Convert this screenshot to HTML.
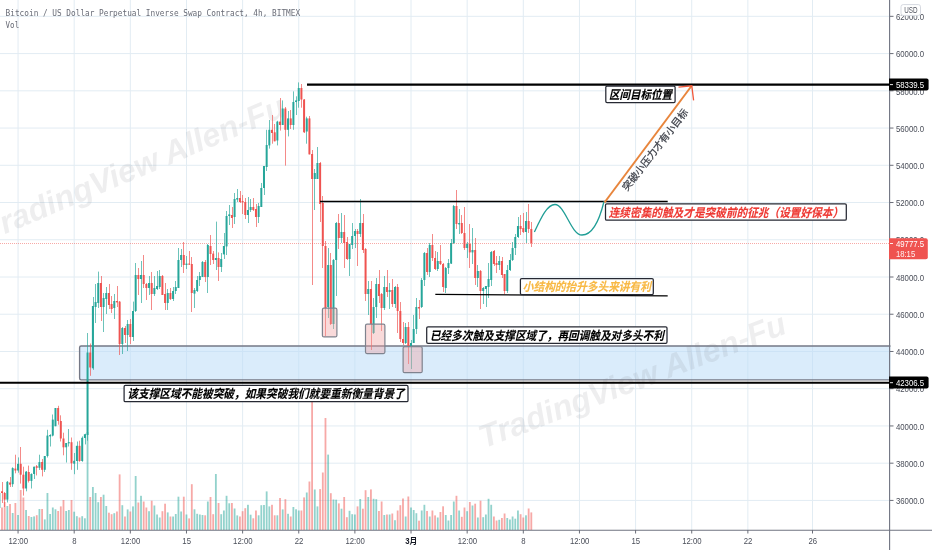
<!DOCTYPE html>
<html lang="zh"><head><meta charset="utf-8"><title>BTC chart</title>
<style>html,body{margin:0;padding:0;background:#fff;overflow:hidden}svg{display:block;filter:blur(0.3px)}text{font-family:"Liberation Sans", "Noto Sans CJK SC", sans-serif}.ax{font-size:8.4px;fill:#4a4e59}.bi{font-weight:bold;font-style:italic}.mono{font-family:"DejaVu Sans Mono", "Liberation Mono", monospace}</style></head><body>
<svg width="932" height="550" viewBox="0 0 932 550">
<rect width="932" height="550" fill="#fff"/>
<g stroke="#e2ecf3" stroke-width="1" fill="none">
<path d="M0 16.34 H890"/>
<path d="M0 53.58 H890"/>
<path d="M0 90.82 H890"/>
<path d="M0 128.05 H890"/>
<path d="M0 165.29 H890"/>
<path d="M0 202.52 H890"/>
<path d="M0 239.76 H890"/>
<path d="M0 277 H890"/>
<path d="M0 314.23 H890"/>
<path d="M0 351.47 H890"/>
<path d="M0 388.7 H890"/>
<path d="M0 425.94 H890"/>
<path d="M0 463.18 H890"/>
<path d="M0 500.41 H890"/>
<path d="M18.05 0 V530"/>
<path d="M74.19 0 V530"/>
<path d="M130.33 0 V530"/>
<path d="M186.47 0 V530"/>
<path d="M242.61 0 V530"/>
<path d="M298.75 0 V530"/>
<path d="M354.89 0 V530"/>
<path d="M411.03 0 V530"/>
<path d="M467.17 0 V530"/>
<path d="M523.31 0 V530"/>
<path d="M579.45 0 V530"/>
<path d="M635.59 0 V530"/>
<path d="M691.73 0 V530"/>
<path d="M747.87 0 V530"/>
<path d="M812.5 0 V530"/>
</g>
<rect x="79.6" y="346" width="812.4" height="33.8" rx="1.5" fill="#bcdcf7" fill-opacity="0.55" stroke="#747886" stroke-width="1.35"/>
<text class="bi" x="-12.85" y="241.7" font-size="32.2" fill="#787b86" fill-opacity="0.13" transform="rotate(-22.9 -12.85 241.7)">TradingView Allen-Fu</text>
<text class="bi" x="483.7" y="448.6" font-size="32.2" fill="#787b86" fill-opacity="0.13" transform="rotate(-20.8 483.7 448.6)">TradingView Allen-Fu</text>
<g>
<rect x="1.1" y="507.5" width="1.8" height="22.5" fill="#ef5350" fill-opacity="0.5"/>
<rect x="3.77" y="502" width="1.8" height="28" fill="#ef5350" fill-opacity="0.5"/>
<rect x="6.45" y="506" width="1.8" height="24" fill="#26a69a" fill-opacity="0.5"/>
<rect x="9.12" y="504" width="1.8" height="26" fill="#ef5350" fill-opacity="0.5"/>
<rect x="11.79" y="513" width="1.8" height="17" fill="#26a69a" fill-opacity="0.5"/>
<rect x="14.47" y="503" width="1.8" height="27" fill="#ef5350" fill-opacity="0.5"/>
<rect x="17.14" y="515" width="1.8" height="15" fill="#26a69a" fill-opacity="0.5"/>
<rect x="19.81" y="490" width="1.8" height="40" fill="#ef5350" fill-opacity="0.5"/>
<rect x="22.49" y="497.5" width="1.8" height="32.5" fill="#ef5350" fill-opacity="0.5"/>
<rect x="25.16" y="510" width="1.8" height="20" fill="#26a69a" fill-opacity="0.5"/>
<rect x="27.83" y="516" width="1.8" height="14" fill="#ef5350" fill-opacity="0.5"/>
<rect x="30.51" y="517" width="1.8" height="13" fill="#26a69a" fill-opacity="0.5"/>
<rect x="33.18" y="516.4" width="1.8" height="13.6" fill="#26a69a" fill-opacity="0.5"/>
<rect x="35.85" y="515.2" width="1.8" height="14.8" fill="#ef5350" fill-opacity="0.5"/>
<rect x="38.53" y="509" width="1.8" height="21" fill="#26a69a" fill-opacity="0.5"/>
<rect x="41.2" y="509" width="1.8" height="21" fill="#ef5350" fill-opacity="0.5"/>
<rect x="43.87" y="519.4" width="1.8" height="10.6" fill="#26a69a" fill-opacity="0.5"/>
<rect x="46.55" y="493" width="1.8" height="37" fill="#26a69a" fill-opacity="0.5"/>
<rect x="49.22" y="514" width="1.8" height="16" fill="#26a69a" fill-opacity="0.5"/>
<rect x="51.89" y="507.5" width="1.8" height="22.5" fill="#26a69a" fill-opacity="0.5"/>
<rect x="54.57" y="509.3" width="1.8" height="20.7" fill="#26a69a" fill-opacity="0.5"/>
<rect x="57.24" y="511" width="1.8" height="19" fill="#ef5350" fill-opacity="0.5"/>
<rect x="59.91" y="506.4" width="1.8" height="23.6" fill="#ef5350" fill-opacity="0.5"/>
<rect x="62.59" y="500" width="1.8" height="30" fill="#ef5350" fill-opacity="0.5"/>
<rect x="65.26" y="511" width="1.8" height="19" fill="#26a69a" fill-opacity="0.5"/>
<rect x="67.93" y="510" width="1.8" height="20" fill="#26a69a" fill-opacity="0.5"/>
<rect x="70.61" y="500" width="1.8" height="30" fill="#ef5350" fill-opacity="0.5"/>
<rect x="73.28" y="511.7" width="1.8" height="18.3" fill="#26a69a" fill-opacity="0.5"/>
<rect x="75.95" y="516.2" width="1.8" height="13.8" fill="#26a69a" fill-opacity="0.5"/>
<rect x="78.63" y="517.5" width="1.8" height="12.5" fill="#ef5350" fill-opacity="0.5"/>
<rect x="81.3" y="516.2" width="1.8" height="13.8" fill="#26a69a" fill-opacity="0.5"/>
<rect x="83.97" y="518.3" width="1.8" height="11.7" fill="#26a69a" fill-opacity="0.5"/>
<rect x="86.65" y="432" width="1.8" height="98" fill="#26a69a" fill-opacity="0.5"/>
<rect x="89.32" y="497" width="1.8" height="33" fill="#ef5350" fill-opacity="0.5"/>
<rect x="91.99" y="487" width="1.8" height="43" fill="#26a69a" fill-opacity="0.5"/>
<rect x="94.67" y="493" width="1.8" height="37" fill="#26a69a" fill-opacity="0.5"/>
<rect x="97.34" y="502.2" width="1.8" height="27.8" fill="#26a69a" fill-opacity="0.5"/>
<rect x="100.01" y="497" width="1.8" height="33" fill="#ef5350" fill-opacity="0.5"/>
<rect x="102.69" y="494.7" width="1.8" height="35.3" fill="#26a69a" fill-opacity="0.5"/>
<rect x="105.36" y="506" width="1.8" height="24" fill="#26a69a" fill-opacity="0.5"/>
<rect x="108.03" y="512.7" width="1.8" height="17.3" fill="#ef5350" fill-opacity="0.5"/>
<rect x="110.71" y="514.2" width="1.8" height="15.8" fill="#ef5350" fill-opacity="0.5"/>
<rect x="113.38" y="513.2" width="1.8" height="16.8" fill="#26a69a" fill-opacity="0.5"/>
<rect x="116.05" y="511.5" width="1.8" height="18.5" fill="#ef5350" fill-opacity="0.5"/>
<rect x="118.73" y="474.4" width="1.8" height="55.6" fill="#ef5350" fill-opacity="0.5"/>
<rect x="121.4" y="505.2" width="1.8" height="24.8" fill="#26a69a" fill-opacity="0.5"/>
<rect x="124.07" y="516.5" width="1.8" height="13.5" fill="#ef5350" fill-opacity="0.5"/>
<rect x="126.75" y="509.4" width="1.8" height="20.6" fill="#26a69a" fill-opacity="0.5"/>
<rect x="129.42" y="511.5" width="1.8" height="18.5" fill="#ef5350" fill-opacity="0.5"/>
<rect x="132.09" y="506.4" width="1.8" height="23.6" fill="#26a69a" fill-opacity="0.5"/>
<rect x="134.76" y="476" width="1.8" height="54" fill="#26a69a" fill-opacity="0.5"/>
<rect x="137.44" y="502.5" width="1.8" height="27.5" fill="#ef5350" fill-opacity="0.5"/>
<rect x="140.11" y="495.8" width="1.8" height="34.2" fill="#26a69a" fill-opacity="0.5"/>
<rect x="142.78" y="501.5" width="1.8" height="28.5" fill="#ef5350" fill-opacity="0.5"/>
<rect x="145.46" y="507.5" width="1.8" height="22.5" fill="#ef5350" fill-opacity="0.5"/>
<rect x="148.13" y="511.2" width="1.8" height="18.8" fill="#26a69a" fill-opacity="0.5"/>
<rect x="150.8" y="500.7" width="1.8" height="29.3" fill="#ef5350" fill-opacity="0.5"/>
<rect x="153.48" y="505.5" width="1.8" height="24.5" fill="#26a69a" fill-opacity="0.5"/>
<rect x="156.15" y="514.5" width="1.8" height="15.5" fill="#26a69a" fill-opacity="0.5"/>
<rect x="158.82" y="517.5" width="1.8" height="12.5" fill="#26a69a" fill-opacity="0.5"/>
<rect x="161.5" y="511.2" width="1.8" height="18.8" fill="#ef5350" fill-opacity="0.5"/>
<rect x="164.17" y="503.7" width="1.8" height="26.3" fill="#ef5350" fill-opacity="0.5"/>
<rect x="166.84" y="512.4" width="1.8" height="17.6" fill="#26a69a" fill-opacity="0.5"/>
<rect x="169.52" y="516.5" width="1.8" height="13.5" fill="#ef5350" fill-opacity="0.5"/>
<rect x="172.19" y="516.5" width="1.8" height="13.5" fill="#26a69a" fill-opacity="0.5"/>
<rect x="174.86" y="514" width="1.8" height="16" fill="#26a69a" fill-opacity="0.5"/>
<rect x="177.54" y="496.7" width="1.8" height="33.3" fill="#26a69a" fill-opacity="0.5"/>
<rect x="180.21" y="511.5" width="1.8" height="18.5" fill="#26a69a" fill-opacity="0.5"/>
<rect x="182.88" y="496.7" width="1.8" height="33.3" fill="#ef5350" fill-opacity="0.5"/>
<rect x="185.56" y="514.5" width="1.8" height="15.5" fill="#26a69a" fill-opacity="0.5"/>
<rect x="188.23" y="518.4" width="1.8" height="11.6" fill="#ef5350" fill-opacity="0.5"/>
<rect x="190.9" y="484.2" width="1.8" height="45.8" fill="#ef5350" fill-opacity="0.5"/>
<rect x="193.58" y="509.3" width="1.8" height="20.7" fill="#26a69a" fill-opacity="0.5"/>
<rect x="196.25" y="513.8" width="1.8" height="16.2" fill="#26a69a" fill-opacity="0.5"/>
<rect x="198.92" y="514.5" width="1.8" height="15.5" fill="#26a69a" fill-opacity="0.5"/>
<rect x="201.6" y="515" width="1.8" height="15" fill="#26a69a" fill-opacity="0.5"/>
<rect x="204.27" y="515.3" width="1.8" height="14.7" fill="#ef5350" fill-opacity="0.5"/>
<rect x="206.94" y="501.5" width="1.8" height="28.5" fill="#26a69a" fill-opacity="0.5"/>
<rect x="209.62" y="497" width="1.8" height="33" fill="#ef5350" fill-opacity="0.5"/>
<rect x="212.29" y="514.2" width="1.8" height="15.8" fill="#ef5350" fill-opacity="0.5"/>
<rect x="214.96" y="474" width="1.8" height="56" fill="#26a69a" fill-opacity="0.5"/>
<rect x="217.64" y="503" width="1.8" height="27" fill="#ef5350" fill-opacity="0.5"/>
<rect x="220.31" y="514.2" width="1.8" height="15.8" fill="#26a69a" fill-opacity="0.5"/>
<rect x="222.98" y="510.5" width="1.8" height="19.5" fill="#26a69a" fill-opacity="0.5"/>
<rect x="225.66" y="495.8" width="1.8" height="34.2" fill="#26a69a" fill-opacity="0.5"/>
<rect x="228.33" y="503.3" width="1.8" height="26.7" fill="#26a69a" fill-opacity="0.5"/>
<rect x="231" y="503" width="1.8" height="27" fill="#ef5350" fill-opacity="0.5"/>
<rect x="233.68" y="508.5" width="1.8" height="21.5" fill="#26a69a" fill-opacity="0.5"/>
<rect x="236.35" y="515.4" width="1.8" height="14.6" fill="#26a69a" fill-opacity="0.5"/>
<rect x="239.02" y="516.5" width="1.8" height="13.5" fill="#ef5350" fill-opacity="0.5"/>
<rect x="241.7" y="511.2" width="1.8" height="18.8" fill="#ef5350" fill-opacity="0.5"/>
<rect x="244.37" y="508.2" width="1.8" height="21.8" fill="#ef5350" fill-opacity="0.5"/>
<rect x="247.04" y="504.8" width="1.8" height="25.2" fill="#26a69a" fill-opacity="0.5"/>
<rect x="249.72" y="514.7" width="1.8" height="15.3" fill="#26a69a" fill-opacity="0.5"/>
<rect x="252.39" y="518.3" width="1.8" height="11.7" fill="#ef5350" fill-opacity="0.5"/>
<rect x="255.06" y="510.5" width="1.8" height="19.5" fill="#ef5350" fill-opacity="0.5"/>
<rect x="257.74" y="515.3" width="1.8" height="14.7" fill="#26a69a" fill-opacity="0.5"/>
<rect x="260.41" y="505.2" width="1.8" height="24.8" fill="#26a69a" fill-opacity="0.5"/>
<rect x="263.08" y="505" width="1.8" height="25" fill="#26a69a" fill-opacity="0.5"/>
<rect x="265.76" y="491.4" width="1.8" height="38.6" fill="#26a69a" fill-opacity="0.5"/>
<rect x="268.43" y="506.4" width="1.8" height="23.6" fill="#26a69a" fill-opacity="0.5"/>
<rect x="271.1" y="504.8" width="1.8" height="25.2" fill="#ef5350" fill-opacity="0.5"/>
<rect x="273.78" y="515.3" width="1.8" height="14.7" fill="#ef5350" fill-opacity="0.5"/>
<rect x="276.45" y="515.3" width="1.8" height="14.7" fill="#26a69a" fill-opacity="0.5"/>
<rect x="279.12" y="498" width="1.8" height="32" fill="#ef5350" fill-opacity="0.5"/>
<rect x="281.8" y="509.4" width="1.8" height="20.6" fill="#26a69a" fill-opacity="0.5"/>
<rect x="284.47" y="499.2" width="1.8" height="30.8" fill="#ef5350" fill-opacity="0.5"/>
<rect x="287.14" y="513.8" width="1.8" height="16.2" fill="#26a69a" fill-opacity="0.5"/>
<rect x="289.82" y="516.5" width="1.8" height="13.5" fill="#ef5350" fill-opacity="0.5"/>
<rect x="292.49" y="507" width="1.8" height="23" fill="#26a69a" fill-opacity="0.5"/>
<rect x="295.16" y="509.3" width="1.8" height="20.7" fill="#26a69a" fill-opacity="0.5"/>
<rect x="297.84" y="510.5" width="1.8" height="19.5" fill="#26a69a" fill-opacity="0.5"/>
<rect x="300.51" y="510.5" width="1.8" height="19.5" fill="#ef5350" fill-opacity="0.5"/>
<rect x="303.18" y="497.4" width="1.8" height="32.6" fill="#ef5350" fill-opacity="0.5"/>
<rect x="305.86" y="492.5" width="1.8" height="37.5" fill="#26a69a" fill-opacity="0.5"/>
<rect x="308.53" y="481.5" width="1.8" height="48.5" fill="#ef5350" fill-opacity="0.5"/>
<rect x="311.2" y="396" width="1.8" height="134" fill="#ef5350" fill-opacity="0.5"/>
<rect x="313.88" y="489.5" width="1.8" height="40.5" fill="#26a69a" fill-opacity="0.5"/>
<rect x="316.55" y="506.4" width="1.8" height="23.6" fill="#26a69a" fill-opacity="0.5"/>
<rect x="319.22" y="489.1" width="1.8" height="40.9" fill="#ef5350" fill-opacity="0.5"/>
<rect x="321.9" y="472.5" width="1.8" height="57.5" fill="#ef5350" fill-opacity="0.5"/>
<rect x="324.57" y="418" width="1.8" height="112" fill="#ef5350" fill-opacity="0.5"/>
<rect x="327.24" y="454.6" width="1.8" height="75.4" fill="#26a69a" fill-opacity="0.5"/>
<rect x="329.92" y="493.2" width="1.8" height="36.8" fill="#ef5350" fill-opacity="0.5"/>
<rect x="332.59" y="499.5" width="1.8" height="30.5" fill="#26a69a" fill-opacity="0.5"/>
<rect x="335.26" y="499.7" width="1.8" height="30.3" fill="#26a69a" fill-opacity="0.5"/>
<rect x="337.94" y="503.4" width="1.8" height="26.6" fill="#ef5350" fill-opacity="0.5"/>
<rect x="340.61" y="508.7" width="1.8" height="21.3" fill="#26a69a" fill-opacity="0.5"/>
<rect x="343.28" y="497" width="1.8" height="33" fill="#ef5350" fill-opacity="0.5"/>
<rect x="345.96" y="517.2" width="1.8" height="12.8" fill="#ef5350" fill-opacity="0.5"/>
<rect x="348.63" y="510.8" width="1.8" height="19.2" fill="#26a69a" fill-opacity="0.5"/>
<rect x="351.3" y="514.2" width="1.8" height="15.8" fill="#26a69a" fill-opacity="0.5"/>
<rect x="353.98" y="514.5" width="1.8" height="15.5" fill="#26a69a" fill-opacity="0.5"/>
<rect x="356.65" y="506.4" width="1.8" height="23.6" fill="#ef5350" fill-opacity="0.5"/>
<rect x="359.32" y="499" width="1.8" height="31" fill="#26a69a" fill-opacity="0.5"/>
<rect x="362" y="508.7" width="1.8" height="21.3" fill="#ef5350" fill-opacity="0.5"/>
<rect x="364.67" y="490.2" width="1.8" height="39.8" fill="#ef5350" fill-opacity="0.5"/>
<rect x="367.34" y="497" width="1.8" height="33" fill="#26a69a" fill-opacity="0.5"/>
<rect x="370.02" y="489.4" width="1.8" height="40.6" fill="#ef5350" fill-opacity="0.5"/>
<rect x="372.69" y="498.8" width="1.8" height="31.2" fill="#26a69a" fill-opacity="0.5"/>
<rect x="375.36" y="499.2" width="1.8" height="30.8" fill="#26a69a" fill-opacity="0.5"/>
<rect x="378.04" y="511" width="1.8" height="19" fill="#ef5350" fill-opacity="0.5"/>
<rect x="380.71" y="501.5" width="1.8" height="28.5" fill="#ef5350" fill-opacity="0.5"/>
<rect x="383.38" y="515" width="1.8" height="15" fill="#26a69a" fill-opacity="0.5"/>
<rect x="386.06" y="514.5" width="1.8" height="15.5" fill="#ef5350" fill-opacity="0.5"/>
<rect x="388.73" y="514.5" width="1.8" height="15.5" fill="#26a69a" fill-opacity="0.5"/>
<rect x="391.4" y="513.5" width="1.8" height="16.5" fill="#ef5350" fill-opacity="0.5"/>
<rect x="394.08" y="520.2" width="1.8" height="9.8" fill="#26a69a" fill-opacity="0.5"/>
<rect x="396.75" y="510.5" width="1.8" height="19.5" fill="#ef5350" fill-opacity="0.5"/>
<rect x="399.42" y="505.2" width="1.8" height="24.8" fill="#ef5350" fill-opacity="0.5"/>
<rect x="402.09" y="498.5" width="1.8" height="31.5" fill="#ef5350" fill-opacity="0.5"/>
<rect x="404.77" y="516.5" width="1.8" height="13.5" fill="#26a69a" fill-opacity="0.5"/>
<rect x="407.44" y="496.5" width="1.8" height="33.5" fill="#ef5350" fill-opacity="0.5"/>
<rect x="410.11" y="507.5" width="1.8" height="22.5" fill="#26a69a" fill-opacity="0.5"/>
<rect x="412.79" y="510" width="1.8" height="20" fill="#26a69a" fill-opacity="0.5"/>
<rect x="415.46" y="513.2" width="1.8" height="16.8" fill="#26a69a" fill-opacity="0.5"/>
<rect x="418.13" y="520.7" width="1.8" height="9.3" fill="#ef5350" fill-opacity="0.5"/>
<rect x="420.81" y="510.5" width="1.8" height="19.5" fill="#26a69a" fill-opacity="0.5"/>
<rect x="423.48" y="504.8" width="1.8" height="25.2" fill="#26a69a" fill-opacity="0.5"/>
<rect x="426.15" y="511" width="1.8" height="19" fill="#ef5350" fill-opacity="0.5"/>
<rect x="428.83" y="516.5" width="1.8" height="13.5" fill="#26a69a" fill-opacity="0.5"/>
<rect x="431.5" y="510.5" width="1.8" height="19.5" fill="#ef5350" fill-opacity="0.5"/>
<rect x="434.17" y="515.4" width="1.8" height="14.6" fill="#ef5350" fill-opacity="0.5"/>
<rect x="436.85" y="517.5" width="1.8" height="12.5" fill="#26a69a" fill-opacity="0.5"/>
<rect x="439.52" y="512" width="1.8" height="18" fill="#ef5350" fill-opacity="0.5"/>
<rect x="442.19" y="506.3" width="1.8" height="23.7" fill="#ef5350" fill-opacity="0.5"/>
<rect x="444.87" y="515" width="1.8" height="15" fill="#26a69a" fill-opacity="0.5"/>
<rect x="447.54" y="520.5" width="1.8" height="9.5" fill="#26a69a" fill-opacity="0.5"/>
<rect x="450.21" y="515" width="1.8" height="15" fill="#26a69a" fill-opacity="0.5"/>
<rect x="452.89" y="501.5" width="1.8" height="28.5" fill="#26a69a" fill-opacity="0.5"/>
<rect x="455.56" y="495.8" width="1.8" height="34.2" fill="#ef5350" fill-opacity="0.5"/>
<rect x="458.23" y="510.5" width="1.8" height="19.5" fill="#26a69a" fill-opacity="0.5"/>
<rect x="460.91" y="516.8" width="1.8" height="13.2" fill="#ef5350" fill-opacity="0.5"/>
<rect x="463.58" y="507.5" width="1.8" height="22.5" fill="#ef5350" fill-opacity="0.5"/>
<rect x="466.25" y="511.2" width="1.8" height="18.8" fill="#26a69a" fill-opacity="0.5"/>
<rect x="468.93" y="502" width="1.8" height="28" fill="#ef5350" fill-opacity="0.5"/>
<rect x="471.6" y="505.5" width="1.8" height="24.5" fill="#26a69a" fill-opacity="0.5"/>
<rect x="474.27" y="503.7" width="1.8" height="26.3" fill="#ef5350" fill-opacity="0.5"/>
<rect x="476.95" y="517.5" width="1.8" height="12.5" fill="#26a69a" fill-opacity="0.5"/>
<rect x="479.62" y="500.7" width="1.8" height="29.3" fill="#ef5350" fill-opacity="0.5"/>
<rect x="482.29" y="517.2" width="1.8" height="12.8" fill="#26a69a" fill-opacity="0.5"/>
<rect x="484.97" y="514.5" width="1.8" height="15.5" fill="#26a69a" fill-opacity="0.5"/>
<rect x="487.64" y="498.8" width="1.8" height="31.2" fill="#26a69a" fill-opacity="0.5"/>
<rect x="490.31" y="504.8" width="1.8" height="25.2" fill="#26a69a" fill-opacity="0.5"/>
<rect x="492.99" y="516.5" width="1.8" height="13.5" fill="#ef5350" fill-opacity="0.5"/>
<rect x="495.66" y="520.5" width="1.8" height="9.5" fill="#ef5350" fill-opacity="0.5"/>
<rect x="498.33" y="519.8" width="1.8" height="10.2" fill="#26a69a" fill-opacity="0.5"/>
<rect x="501.01" y="518" width="1.8" height="12" fill="#ef5350" fill-opacity="0.5"/>
<rect x="503.68" y="513.5" width="1.8" height="16.5" fill="#ef5350" fill-opacity="0.5"/>
<rect x="506.35" y="518" width="1.8" height="12" fill="#26a69a" fill-opacity="0.5"/>
<rect x="509.03" y="519.5" width="1.8" height="10.5" fill="#26a69a" fill-opacity="0.5"/>
<rect x="511.7" y="516.5" width="1.8" height="13.5" fill="#26a69a" fill-opacity="0.5"/>
<rect x="514.37" y="518.7" width="1.8" height="11.3" fill="#26a69a" fill-opacity="0.5"/>
<rect x="517.05" y="510.5" width="1.8" height="19.5" fill="#26a69a" fill-opacity="0.5"/>
<rect x="519.72" y="514.2" width="1.8" height="15.8" fill="#ef5350" fill-opacity="0.5"/>
<rect x="522.39" y="517.5" width="1.8" height="12.5" fill="#ef5350" fill-opacity="0.5"/>
<rect x="525.07" y="515.3" width="1.8" height="14.7" fill="#26a69a" fill-opacity="0.5"/>
<rect x="527.74" y="508.5" width="1.8" height="21.5" fill="#ef5350" fill-opacity="0.5"/>
<rect x="530.41" y="512.4" width="1.8" height="17.6" fill="#ef5350" fill-opacity="0.5"/>
</g>
<path d="M0 243.5 H890" stroke="#ef5350" stroke-width="1" stroke-dasharray="1 1" fill="none" opacity="0.5"/>
<g>
<rect x="-1.67" y="493" width="2" height="15" fill="#26a69a"/>
<rect x="2" y="482" width="1" height="21" fill="#ef5350" fill-opacity="0.68"/>
<rect x="1" y="491.3" width="2" height="1.7" fill="#ef5350"/>
<rect x="4" y="492" width="1" height="15" fill="#ef5350" fill-opacity="0.68"/>
<rect x="3.67" y="493" width="2" height="6.6" fill="#ef5350"/>
<rect x="7" y="481" width="1" height="21.5" fill="#26a69a" fill-opacity="0.68"/>
<rect x="6.35" y="481.8" width="2" height="17.8" fill="#26a69a"/>
<rect x="10" y="477" width="1" height="10" fill="#ef5350" fill-opacity="0.68"/>
<rect x="9.02" y="482.5" width="2" height="2.2" fill="#ef5350"/>
<rect x="12" y="467.3" width="1" height="19.6" fill="#26a69a" fill-opacity="0.68"/>
<rect x="11.69" y="468.1" width="2" height="16.1" fill="#26a69a"/>
<rect x="15" y="454.7" width="1" height="18.6" fill="#ef5350" fill-opacity="0.68"/>
<rect x="14.37" y="468.6" width="2" height="1.9" fill="#ef5350"/>
<rect x="18" y="457.4" width="1" height="15.3" fill="#26a69a" fill-opacity="0.68"/>
<rect x="17.04" y="463.8" width="2" height="6.7" fill="#26a69a"/>
<rect x="20" y="447" width="1" height="36.6" fill="#ef5350" fill-opacity="0.68"/>
<rect x="19.71" y="463.8" width="2" height="10.9" fill="#ef5350"/>
<rect x="23" y="466.7" width="1" height="28.9" fill="#ef5350" fill-opacity="0.68"/>
<rect x="22.39" y="474.7" width="2" height="13.8" fill="#ef5350"/>
<rect x="26" y="471" width="1" height="20.3" fill="#26a69a" fill-opacity="0.68"/>
<rect x="25.06" y="471.6" width="2" height="16.9" fill="#26a69a"/>
<rect x="28" y="465.6" width="1" height="16.9" fill="#ef5350" fill-opacity="0.68"/>
<rect x="27.73" y="472" width="2" height="8.9" fill="#ef5350"/>
<rect x="31" y="473.3" width="1" height="15.2" fill="#26a69a" fill-opacity="0.68"/>
<rect x="30.41" y="474" width="2" height="6.9" fill="#26a69a"/>
<rect x="34" y="466.7" width="1" height="12.3" fill="#26a69a" fill-opacity="0.68"/>
<rect x="33.08" y="466.7" width="2" height="7.3" fill="#26a69a"/>
<rect x="36" y="465" width="1" height="10.4" fill="#ef5350" fill-opacity="0.68"/>
<rect x="35.75" y="466.2" width="2" height="1.6" fill="#ef5350"/>
<rect x="39" y="454.7" width="1" height="15.3" fill="#26a69a" fill-opacity="0.68"/>
<rect x="38.43" y="462.1" width="2" height="5.7" fill="#26a69a"/>
<rect x="42" y="459" width="1" height="17.4" fill="#ef5350" fill-opacity="0.68"/>
<rect x="41.1" y="462" width="2" height="7.8" fill="#ef5350"/>
<rect x="44" y="456" width="1" height="16" fill="#26a69a" fill-opacity="0.68"/>
<rect x="43.77" y="456" width="2" height="13.8" fill="#26a69a"/>
<rect x="47" y="429.8" width="1" height="27.7" fill="#26a69a" fill-opacity="0.68"/>
<rect x="46.45" y="435.6" width="2" height="20.4" fill="#26a69a"/>
<rect x="50" y="434.2" width="1" height="12.3" fill="#26a69a" fill-opacity="0.68"/>
<rect x="49.12" y="435" width="2" height="1.4" fill="#26a69a"/>
<rect x="52" y="414.5" width="1" height="21.9" fill="#26a69a" fill-opacity="0.68"/>
<rect x="51.79" y="419.6" width="2" height="16" fill="#26a69a"/>
<rect x="55" y="408" width="1" height="18.2" fill="#26a69a" fill-opacity="0.68"/>
<rect x="54.47" y="408" width="2" height="18.2" fill="#26a69a"/>
<rect x="58" y="405.8" width="1" height="18.9" fill="#ef5350" fill-opacity="0.68"/>
<rect x="57.14" y="408" width="2" height="13" fill="#ef5350"/>
<rect x="60" y="415.3" width="1" height="26.2" fill="#ef5350" fill-opacity="0.68"/>
<rect x="59.81" y="421" width="2" height="17.5" fill="#ef5350"/>
<rect x="63" y="432.7" width="1" height="22.6" fill="#ef5350" fill-opacity="0.68"/>
<rect x="62.49" y="438.5" width="2" height="8.8" fill="#ef5350"/>
<rect x="66" y="443" width="1" height="19.5" fill="#26a69a" fill-opacity="0.68"/>
<rect x="65.16" y="443" width="2" height="4.3" fill="#26a69a"/>
<rect x="68" y="429" width="1" height="17.5" fill="#26a69a" fill-opacity="0.68"/>
<rect x="67.83" y="442.2" width="2" height="1.1" fill="#26a69a"/>
<rect x="71" y="437.5" width="1" height="32.3" fill="#ef5350" fill-opacity="0.68"/>
<rect x="70.51" y="442.2" width="2" height="21.1" fill="#ef5350"/>
<rect x="74" y="453" width="1" height="21.2" fill="#26a69a" fill-opacity="0.68"/>
<rect x="73.18" y="460.8" width="2" height="2.9" fill="#26a69a"/>
<rect x="77" y="441.5" width="1" height="28.3" fill="#26a69a" fill-opacity="0.68"/>
<rect x="75.85" y="445.8" width="2" height="15.2" fill="#26a69a"/>
<rect x="79" y="440.7" width="1" height="21.1" fill="#ef5350" fill-opacity="0.68"/>
<rect x="78.53" y="445.8" width="2" height="15.2" fill="#ef5350"/>
<rect x="82" y="436.4" width="1" height="25.4" fill="#26a69a" fill-opacity="0.68"/>
<rect x="81.2" y="437.8" width="2" height="23.2" fill="#26a69a"/>
<rect x="85" y="433.7" width="1" height="10.7" fill="#26a69a" fill-opacity="0.68"/>
<rect x="83.87" y="434.2" width="2" height="3.8" fill="#26a69a"/>
<rect x="87" y="333" width="1" height="107.7" fill="#26a69a" fill-opacity="0.68"/>
<rect x="86.55" y="352.5" width="2" height="82.5" fill="#26a69a"/>
<rect x="90" y="343.5" width="1" height="32.3" fill="#ef5350" fill-opacity="0.68"/>
<rect x="89.22" y="352.5" width="2" height="15" fill="#ef5350"/>
<rect x="93" y="297" width="1" height="72.8" fill="#26a69a" fill-opacity="0.68"/>
<rect x="91.89" y="306" width="2" height="62.3" fill="#26a69a"/>
<rect x="95" y="284" width="1" height="39" fill="#26a69a" fill-opacity="0.68"/>
<rect x="94.57" y="302" width="2" height="5" fill="#26a69a"/>
<rect x="98" y="271.6" width="1" height="36.4" fill="#26a69a" fill-opacity="0.68"/>
<rect x="97.24" y="283" width="2" height="20" fill="#26a69a"/>
<rect x="101" y="276" width="1" height="45" fill="#ef5350" fill-opacity="0.68"/>
<rect x="99.91" y="283" width="2" height="24" fill="#ef5350"/>
<rect x="103" y="293" width="1" height="39" fill="#26a69a" fill-opacity="0.68"/>
<rect x="102.59" y="298" width="2" height="9" fill="#26a69a"/>
<rect x="106" y="287" width="1" height="27" fill="#26a69a" fill-opacity="0.68"/>
<rect x="105.26" y="293" width="2" height="6" fill="#26a69a"/>
<rect x="109" y="284" width="1" height="25" fill="#ef5350" fill-opacity="0.68"/>
<rect x="107.93" y="293" width="2" height="12" fill="#ef5350"/>
<rect x="111" y="296" width="1" height="17" fill="#ef5350" fill-opacity="0.68"/>
<rect x="110.61" y="304" width="2" height="5" fill="#ef5350"/>
<rect x="114" y="294" width="1" height="25" fill="#26a69a" fill-opacity="0.68"/>
<rect x="113.28" y="301" width="2" height="7" fill="#26a69a"/>
<rect x="117" y="286" width="1" height="21" fill="#ef5350" fill-opacity="0.68"/>
<rect x="115.95" y="301" width="2" height="1.4" fill="#ef5350"/>
<rect x="119" y="301" width="1" height="54" fill="#ef5350" fill-opacity="0.68"/>
<rect x="118.63" y="301.6" width="2" height="42.4" fill="#ef5350"/>
<rect x="122" y="327" width="1" height="27" fill="#26a69a" fill-opacity="0.68"/>
<rect x="121.3" y="328" width="2" height="16" fill="#26a69a"/>
<rect x="125" y="326" width="1" height="17" fill="#ef5350" fill-opacity="0.68"/>
<rect x="123.97" y="328" width="2" height="7" fill="#ef5350"/>
<rect x="127" y="320" width="1" height="31" fill="#26a69a" fill-opacity="0.68"/>
<rect x="126.65" y="324" width="2" height="11" fill="#26a69a"/>
<rect x="130" y="319" width="1" height="25" fill="#ef5350" fill-opacity="0.68"/>
<rect x="129.32" y="324" width="2" height="13" fill="#ef5350"/>
<rect x="133" y="301.6" width="1" height="39.4" fill="#26a69a" fill-opacity="0.68"/>
<rect x="131.99" y="311" width="2" height="26" fill="#26a69a"/>
<rect x="135" y="263" width="1" height="49" fill="#26a69a" fill-opacity="0.68"/>
<rect x="134.66" y="275" width="2" height="36" fill="#26a69a"/>
<rect x="138" y="268" width="1" height="27" fill="#ef5350" fill-opacity="0.68"/>
<rect x="137.34" y="275" width="2" height="4" fill="#ef5350"/>
<rect x="141" y="261" width="1" height="42" fill="#26a69a" fill-opacity="0.68"/>
<rect x="140.01" y="275" width="2" height="4" fill="#26a69a"/>
<rect x="143" y="255" width="1" height="33" fill="#ef5350" fill-opacity="0.68"/>
<rect x="142.68" y="275" width="2" height="9" fill="#ef5350"/>
<rect x="146" y="283" width="1" height="17" fill="#ef5350" fill-opacity="0.68"/>
<rect x="145.36" y="284" width="2" height="4" fill="#ef5350"/>
<rect x="149" y="276" width="1" height="19" fill="#26a69a" fill-opacity="0.68"/>
<rect x="148.03" y="283" width="2" height="5" fill="#26a69a"/>
<rect x="151" y="272" width="1" height="38" fill="#ef5350" fill-opacity="0.68"/>
<rect x="150.7" y="283" width="2" height="11" fill="#ef5350"/>
<rect x="154" y="276" width="1" height="20" fill="#26a69a" fill-opacity="0.68"/>
<rect x="153.38" y="288" width="2" height="6" fill="#26a69a"/>
<rect x="157" y="271" width="1" height="19" fill="#26a69a" fill-opacity="0.68"/>
<rect x="156.05" y="286" width="2" height="3" fill="#26a69a"/>
<rect x="159" y="270" width="1" height="19" fill="#26a69a" fill-opacity="0.68"/>
<rect x="158.72" y="276" width="2" height="11" fill="#26a69a"/>
<rect x="162" y="275" width="1" height="20" fill="#ef5350" fill-opacity="0.68"/>
<rect x="161.4" y="276" width="2" height="19" fill="#ef5350"/>
<rect x="165" y="283" width="1" height="27" fill="#ef5350" fill-opacity="0.68"/>
<rect x="164.07" y="294" width="2" height="9" fill="#ef5350"/>
<rect x="167" y="289" width="1" height="21" fill="#26a69a" fill-opacity="0.68"/>
<rect x="166.74" y="293" width="2" height="10" fill="#26a69a"/>
<rect x="170" y="288" width="1" height="12" fill="#ef5350" fill-opacity="0.68"/>
<rect x="169.42" y="293" width="2" height="6" fill="#ef5350"/>
<rect x="173" y="287" width="1" height="14" fill="#26a69a" fill-opacity="0.68"/>
<rect x="172.09" y="291" width="2" height="8" fill="#26a69a"/>
<rect x="175" y="281" width="1" height="13" fill="#26a69a" fill-opacity="0.68"/>
<rect x="174.76" y="287" width="2" height="4" fill="#26a69a"/>
<rect x="178" y="248" width="1" height="40" fill="#26a69a" fill-opacity="0.68"/>
<rect x="177.44" y="260" width="2" height="28" fill="#26a69a"/>
<rect x="181" y="249" width="1" height="18" fill="#26a69a" fill-opacity="0.68"/>
<rect x="180.11" y="255" width="2" height="5" fill="#26a69a"/>
<rect x="183" y="242" width="1" height="31" fill="#ef5350" fill-opacity="0.68"/>
<rect x="182.78" y="255" width="2" height="10" fill="#ef5350"/>
<rect x="186" y="256" width="1" height="13" fill="#26a69a" fill-opacity="0.68"/>
<rect x="185.46" y="263.6" width="2" height="1.4" fill="#26a69a"/>
<rect x="189" y="251" width="1" height="14" fill="#ef5350" fill-opacity="0.68"/>
<rect x="188.13" y="263.6" width="2" height="1" fill="#ef5350"/>
<rect x="191" y="257" width="1" height="55" fill="#ef5350" fill-opacity="0.68"/>
<rect x="190.8" y="264" width="2" height="29" fill="#ef5350"/>
<rect x="194" y="288" width="1" height="20" fill="#26a69a" fill-opacity="0.68"/>
<rect x="193.48" y="290" width="2" height="3.6" fill="#26a69a"/>
<rect x="197" y="276" width="1" height="16" fill="#26a69a" fill-opacity="0.68"/>
<rect x="196.15" y="280" width="2" height="11" fill="#26a69a"/>
<rect x="199" y="272" width="1" height="14" fill="#26a69a" fill-opacity="0.68"/>
<rect x="198.82" y="276" width="2" height="4" fill="#26a69a"/>
<rect x="202" y="261" width="1" height="16" fill="#26a69a" fill-opacity="0.68"/>
<rect x="201.5" y="262" width="2" height="15" fill="#26a69a"/>
<rect x="205" y="260" width="1" height="22" fill="#ef5350" fill-opacity="0.68"/>
<rect x="204.17" y="262" width="2" height="15" fill="#ef5350"/>
<rect x="207" y="244" width="1" height="49" fill="#26a69a" fill-opacity="0.68"/>
<rect x="206.84" y="245" width="2" height="32" fill="#26a69a"/>
<rect x="210" y="235" width="1" height="30" fill="#ef5350" fill-opacity="0.68"/>
<rect x="209.52" y="246" width="2" height="8" fill="#ef5350"/>
<rect x="213" y="251" width="1" height="13" fill="#ef5350" fill-opacity="0.68"/>
<rect x="212.19" y="253.6" width="2" height="6.4" fill="#ef5350"/>
<rect x="216" y="221.6" width="1" height="48.4" fill="#26a69a" fill-opacity="0.68"/>
<rect x="214.86" y="258" width="2" height="2" fill="#26a69a"/>
<rect x="218" y="252.4" width="1" height="28.6" fill="#ef5350" fill-opacity="0.68"/>
<rect x="217.54" y="258" width="2" height="9" fill="#ef5350"/>
<rect x="221" y="253" width="1" height="19" fill="#26a69a" fill-opacity="0.68"/>
<rect x="220.21" y="259" width="2" height="8" fill="#26a69a"/>
<rect x="224" y="233" width="1" height="26" fill="#26a69a" fill-opacity="0.68"/>
<rect x="222.88" y="246" width="2" height="8.4" fill="#26a69a"/>
<rect x="226" y="211" width="1" height="44" fill="#26a69a" fill-opacity="0.68"/>
<rect x="225.56" y="216" width="2" height="30.4" fill="#26a69a"/>
<rect x="229" y="205" width="1" height="20" fill="#26a69a" fill-opacity="0.68"/>
<rect x="228.23" y="214.4" width="2" height="1.6" fill="#26a69a"/>
<rect x="232" y="207" width="1" height="21" fill="#ef5350" fill-opacity="0.68"/>
<rect x="230.9" y="215" width="2" height="3" fill="#ef5350"/>
<rect x="234" y="193" width="1" height="31" fill="#26a69a" fill-opacity="0.68"/>
<rect x="233.58" y="199" width="2" height="18" fill="#26a69a"/>
<rect x="237" y="189" width="1" height="13" fill="#26a69a" fill-opacity="0.68"/>
<rect x="236.25" y="198" width="2" height="1.6" fill="#26a69a"/>
<rect x="240" y="191" width="1" height="12" fill="#ef5350" fill-opacity="0.68"/>
<rect x="238.92" y="198" width="2" height="4" fill="#ef5350"/>
<rect x="242" y="195" width="1" height="19" fill="#ef5350" fill-opacity="0.68"/>
<rect x="241.6" y="201" width="2" height="1.4" fill="#ef5350"/>
<rect x="245" y="198" width="1" height="21" fill="#ef5350" fill-opacity="0.68"/>
<rect x="244.27" y="202" width="2" height="13" fill="#ef5350"/>
<rect x="248" y="197" width="1" height="26" fill="#26a69a" fill-opacity="0.68"/>
<rect x="246.94" y="210" width="2" height="5" fill="#26a69a"/>
<rect x="250" y="199" width="1" height="13" fill="#26a69a" fill-opacity="0.68"/>
<rect x="249.62" y="207" width="2" height="3" fill="#26a69a"/>
<rect x="253" y="198" width="1" height="13" fill="#ef5350" fill-opacity="0.68"/>
<rect x="252.29" y="207" width="2" height="3" fill="#ef5350"/>
<rect x="256" y="204" width="1" height="23" fill="#ef5350" fill-opacity="0.68"/>
<rect x="254.96" y="209" width="2" height="8" fill="#ef5350"/>
<rect x="258" y="203" width="1" height="20" fill="#26a69a" fill-opacity="0.68"/>
<rect x="257.64" y="206" width="2" height="11" fill="#26a69a"/>
<rect x="261" y="183" width="1" height="24" fill="#26a69a" fill-opacity="0.68"/>
<rect x="260.31" y="188" width="2" height="19" fill="#26a69a"/>
<rect x="264" y="166" width="1" height="29" fill="#26a69a" fill-opacity="0.68"/>
<rect x="262.98" y="166" width="2" height="22" fill="#26a69a"/>
<rect x="266" y="129.8" width="1" height="41.2" fill="#26a69a" fill-opacity="0.68"/>
<rect x="265.66" y="145" width="2" height="22" fill="#26a69a"/>
<rect x="269" y="120" width="1" height="28.6" fill="#26a69a" fill-opacity="0.68"/>
<rect x="268.33" y="129.8" width="2" height="15.6" fill="#26a69a"/>
<rect x="272" y="115" width="1" height="28.7" fill="#ef5350" fill-opacity="0.68"/>
<rect x="271" y="129.8" width="2" height="3.2" fill="#ef5350"/>
<rect x="274" y="124" width="1" height="17.3" fill="#ef5350" fill-opacity="0.68"/>
<rect x="273.68" y="132.3" width="2" height="9" fill="#ef5350"/>
<rect x="277" y="120.8" width="1" height="24.6" fill="#26a69a" fill-opacity="0.68"/>
<rect x="276.35" y="121.6" width="2" height="18.9" fill="#26a69a"/>
<rect x="280" y="98" width="1" height="32.6" fill="#ef5350" fill-opacity="0.68"/>
<rect x="279.02" y="121.6" width="2" height="3.4" fill="#ef5350"/>
<rect x="282" y="100.4" width="1" height="24.6" fill="#26a69a" fill-opacity="0.68"/>
<rect x="281.7" y="108.5" width="2" height="16.5" fill="#26a69a"/>
<rect x="285" y="107" width="1" height="58.6" fill="#ef5350" fill-opacity="0.68"/>
<rect x="284.37" y="108.5" width="2" height="21.3" fill="#ef5350"/>
<rect x="288" y="111" width="1" height="25.4" fill="#26a69a" fill-opacity="0.68"/>
<rect x="287.04" y="118.4" width="2" height="11.4" fill="#26a69a"/>
<rect x="290" y="110" width="1" height="19" fill="#ef5350" fill-opacity="0.68"/>
<rect x="289.72" y="118.4" width="2" height="6.6" fill="#ef5350"/>
<rect x="293" y="91.4" width="1" height="38.4" fill="#26a69a" fill-opacity="0.68"/>
<rect x="292.39" y="102" width="2" height="23" fill="#26a69a"/>
<rect x="296" y="96.3" width="1" height="18.7" fill="#26a69a" fill-opacity="0.68"/>
<rect x="295.06" y="100.4" width="2" height="1.6" fill="#26a69a"/>
<rect x="298" y="82.4" width="1" height="25.3" fill="#26a69a" fill-opacity="0.68"/>
<rect x="297.74" y="88" width="2" height="13" fill="#26a69a"/>
<rect x="301" y="84" width="1" height="23.7" fill="#ef5350" fill-opacity="0.68"/>
<rect x="300.41" y="88" width="2" height="11.5" fill="#ef5350"/>
<rect x="304" y="99" width="1" height="34" fill="#ef5350" fill-opacity="0.68"/>
<rect x="303.08" y="99.5" width="2" height="32.8" fill="#ef5350"/>
<rect x="306" y="116.7" width="1" height="27" fill="#26a69a" fill-opacity="0.68"/>
<rect x="305.76" y="118.4" width="2" height="13.1" fill="#26a69a"/>
<rect x="309" y="116" width="1" height="38.4" fill="#ef5350" fill-opacity="0.68"/>
<rect x="308.43" y="118.4" width="2" height="36" fill="#ef5350"/>
<rect x="312" y="150" width="1" height="135" fill="#ef5350" fill-opacity="0.68"/>
<rect x="311.1" y="154" width="2" height="25" fill="#ef5350"/>
<rect x="314" y="169" width="1" height="41" fill="#26a69a" fill-opacity="0.68"/>
<rect x="313.78" y="173" width="2" height="6" fill="#26a69a"/>
<rect x="317" y="147" width="1" height="32" fill="#26a69a" fill-opacity="0.68"/>
<rect x="316.45" y="163" width="2" height="16" fill="#26a69a"/>
<rect x="320" y="162" width="1" height="60" fill="#ef5350" fill-opacity="0.68"/>
<rect x="319.12" y="163" width="2" height="41" fill="#ef5350"/>
<rect x="322" y="196" width="1" height="72" fill="#ef5350" fill-opacity="0.68"/>
<rect x="321.8" y="203" width="2" height="43" fill="#ef5350"/>
<rect x="325" y="241" width="1" height="95" fill="#ef5350" fill-opacity="0.68"/>
<rect x="324.47" y="246" width="2" height="62" fill="#ef5350"/>
<rect x="328" y="248" width="1" height="70" fill="#26a69a" fill-opacity="0.68"/>
<rect x="327.14" y="265" width="2" height="42" fill="#26a69a"/>
<rect x="330" y="253" width="1" height="72" fill="#ef5350" fill-opacity="0.68"/>
<rect x="329.82" y="265" width="2" height="59" fill="#ef5350"/>
<rect x="333" y="259" width="1" height="70" fill="#26a69a" fill-opacity="0.68"/>
<rect x="332.49" y="260" width="2" height="64" fill="#26a69a"/>
<rect x="336" y="222" width="1" height="74" fill="#26a69a" fill-opacity="0.68"/>
<rect x="335.16" y="223" width="2" height="37" fill="#26a69a"/>
<rect x="338" y="214" width="1" height="35" fill="#ef5350" fill-opacity="0.68"/>
<rect x="337.84" y="223" width="2" height="15" fill="#ef5350"/>
<rect x="341" y="213" width="1" height="30" fill="#26a69a" fill-opacity="0.68"/>
<rect x="340.51" y="232" width="2" height="6" fill="#26a69a"/>
<rect x="344" y="215" width="1" height="53" fill="#ef5350" fill-opacity="0.68"/>
<rect x="343.18" y="232" width="2" height="11" fill="#ef5350"/>
<rect x="347" y="237" width="1" height="23" fill="#ef5350" fill-opacity="0.68"/>
<rect x="345.86" y="242" width="2" height="17" fill="#ef5350"/>
<rect x="349" y="244" width="1" height="32" fill="#26a69a" fill-opacity="0.68"/>
<rect x="348.53" y="244" width="2" height="15" fill="#26a69a"/>
<rect x="352" y="223" width="1" height="26" fill="#26a69a" fill-opacity="0.68"/>
<rect x="351.2" y="236" width="2" height="9" fill="#26a69a"/>
<rect x="355" y="229" width="1" height="19" fill="#26a69a" fill-opacity="0.68"/>
<rect x="353.88" y="231" width="2" height="5" fill="#26a69a"/>
<rect x="357" y="229" width="1" height="37" fill="#ef5350" fill-opacity="0.68"/>
<rect x="356.55" y="231" width="2" height="3" fill="#ef5350"/>
<rect x="360" y="199" width="1" height="38" fill="#26a69a" fill-opacity="0.68"/>
<rect x="359.22" y="223" width="2" height="11" fill="#26a69a"/>
<rect x="363" y="214" width="1" height="39" fill="#ef5350" fill-opacity="0.68"/>
<rect x="361.9" y="223" width="2" height="27" fill="#ef5350"/>
<rect x="365" y="248" width="1" height="53" fill="#ef5350" fill-opacity="0.68"/>
<rect x="364.57" y="249" width="2" height="45" fill="#ef5350"/>
<rect x="368" y="281" width="1" height="34" fill="#26a69a" fill-opacity="0.68"/>
<rect x="367.24" y="289" width="2" height="5" fill="#26a69a"/>
<rect x="371" y="281" width="1" height="69" fill="#ef5350" fill-opacity="0.68"/>
<rect x="369.92" y="289" width="2" height="35" fill="#ef5350"/>
<rect x="373" y="298" width="1" height="36" fill="#26a69a" fill-opacity="0.68"/>
<rect x="372.59" y="307" width="2" height="26" fill="#26a69a"/>
<rect x="376" y="278" width="1" height="40" fill="#26a69a" fill-opacity="0.68"/>
<rect x="375.26" y="284" width="2" height="23" fill="#26a69a"/>
<rect x="379" y="270" width="1" height="33" fill="#ef5350" fill-opacity="0.68"/>
<rect x="377.94" y="284" width="2" height="12" fill="#ef5350"/>
<rect x="381" y="293" width="1" height="38" fill="#ef5350" fill-opacity="0.68"/>
<rect x="380.61" y="294" width="2" height="14" fill="#ef5350"/>
<rect x="384" y="276" width="1" height="34" fill="#26a69a" fill-opacity="0.68"/>
<rect x="383.28" y="287" width="2" height="21" fill="#26a69a"/>
<rect x="387" y="270" width="1" height="27" fill="#ef5350" fill-opacity="0.68"/>
<rect x="385.96" y="287" width="2" height="5" fill="#ef5350"/>
<rect x="389" y="283" width="1" height="26" fill="#26a69a" fill-opacity="0.68"/>
<rect x="388.63" y="290" width="2" height="2" fill="#26a69a"/>
<rect x="392" y="279" width="1" height="28" fill="#ef5350" fill-opacity="0.68"/>
<rect x="391.3" y="290" width="2" height="14" fill="#ef5350"/>
<rect x="395" y="286" width="1" height="22" fill="#26a69a" fill-opacity="0.68"/>
<rect x="393.98" y="287" width="2" height="17" fill="#26a69a"/>
<rect x="397" y="284" width="1" height="49" fill="#ef5350" fill-opacity="0.68"/>
<rect x="396.65" y="287" width="2" height="24" fill="#ef5350"/>
<rect x="400" y="302" width="1" height="40" fill="#ef5350" fill-opacity="0.68"/>
<rect x="399.32" y="311" width="2" height="28" fill="#ef5350"/>
<rect x="403" y="322" width="1" height="23" fill="#ef5350" fill-opacity="0.68"/>
<rect x="401.99" y="339" width="2" height="4" fill="#ef5350"/>
<rect x="405" y="323" width="1" height="21" fill="#26a69a" fill-opacity="0.68"/>
<rect x="404.67" y="327" width="2" height="16" fill="#26a69a"/>
<rect x="408" y="322" width="1" height="42" fill="#ef5350" fill-opacity="0.68"/>
<rect x="407.34" y="327" width="2" height="20" fill="#ef5350"/>
<rect x="411" y="340" width="1" height="29" fill="#26a69a" fill-opacity="0.68"/>
<rect x="410.01" y="343" width="2" height="3" fill="#26a69a"/>
<rect x="413" y="315" width="1" height="28" fill="#26a69a" fill-opacity="0.68"/>
<rect x="412.69" y="329" width="2" height="14" fill="#26a69a"/>
<rect x="416" y="298" width="1" height="36" fill="#26a69a" fill-opacity="0.68"/>
<rect x="415.36" y="307" width="2" height="22" fill="#26a69a"/>
<rect x="419" y="300" width="1" height="19" fill="#ef5350" fill-opacity="0.68"/>
<rect x="418.03" y="307" width="2" height="1.5" fill="#ef5350"/>
<rect x="421" y="278" width="1" height="30" fill="#26a69a" fill-opacity="0.68"/>
<rect x="420.71" y="280" width="2" height="27" fill="#26a69a"/>
<rect x="424" y="252" width="1" height="34" fill="#26a69a" fill-opacity="0.68"/>
<rect x="423.38" y="253" width="2" height="27" fill="#26a69a"/>
<rect x="427" y="248" width="1" height="27" fill="#ef5350" fill-opacity="0.68"/>
<rect x="426.05" y="253" width="2" height="19" fill="#ef5350"/>
<rect x="429" y="243" width="1" height="34" fill="#26a69a" fill-opacity="0.68"/>
<rect x="428.73" y="245" width="2" height="27" fill="#26a69a"/>
<rect x="432" y="234" width="1" height="27" fill="#ef5350" fill-opacity="0.68"/>
<rect x="431.4" y="245" width="2" height="13" fill="#ef5350"/>
<rect x="435" y="251" width="1" height="19" fill="#ef5350" fill-opacity="0.68"/>
<rect x="434.07" y="258" width="2" height="11" fill="#ef5350"/>
<rect x="437" y="252" width="1" height="19" fill="#26a69a" fill-opacity="0.68"/>
<rect x="436.75" y="261" width="2" height="8" fill="#26a69a"/>
<rect x="440" y="245" width="1" height="20" fill="#ef5350" fill-opacity="0.68"/>
<rect x="439.42" y="261" width="2" height="3" fill="#ef5350"/>
<rect x="443" y="263" width="1" height="29" fill="#ef5350" fill-opacity="0.68"/>
<rect x="442.09" y="264" width="2" height="23" fill="#ef5350"/>
<rect x="445" y="267" width="1" height="26" fill="#26a69a" fill-opacity="0.68"/>
<rect x="444.77" y="268" width="2" height="20" fill="#26a69a"/>
<rect x="448" y="259" width="1" height="15" fill="#26a69a" fill-opacity="0.68"/>
<rect x="447.44" y="263" width="2" height="5" fill="#26a69a"/>
<rect x="451" y="239" width="1" height="25" fill="#26a69a" fill-opacity="0.68"/>
<rect x="450.11" y="243" width="2" height="20.6" fill="#26a69a"/>
<rect x="453" y="205" width="1" height="39" fill="#26a69a" fill-opacity="0.68"/>
<rect x="452.79" y="206" width="2" height="37" fill="#26a69a"/>
<rect x="456" y="190" width="1" height="39" fill="#ef5350" fill-opacity="0.68"/>
<rect x="455.46" y="206" width="2" height="18" fill="#ef5350"/>
<rect x="459" y="209" width="1" height="25" fill="#26a69a" fill-opacity="0.68"/>
<rect x="458.13" y="223" width="2" height="1.4" fill="#26a69a"/>
<rect x="461" y="215" width="1" height="19" fill="#ef5350" fill-opacity="0.68"/>
<rect x="460.81" y="223" width="2" height="10" fill="#ef5350"/>
<rect x="464" y="207" width="1" height="43" fill="#ef5350" fill-opacity="0.68"/>
<rect x="463.48" y="233" width="2" height="15" fill="#ef5350"/>
<rect x="467" y="242" width="1" height="16" fill="#26a69a" fill-opacity="0.68"/>
<rect x="466.15" y="244" width="2" height="4" fill="#26a69a"/>
<rect x="469" y="224" width="1" height="44" fill="#ef5350" fill-opacity="0.68"/>
<rect x="468.83" y="244" width="2" height="8.4" fill="#ef5350"/>
<rect x="472" y="228" width="1" height="36" fill="#26a69a" fill-opacity="0.68"/>
<rect x="471.5" y="250" width="2" height="2.4" fill="#26a69a"/>
<rect x="475" y="238" width="1" height="47" fill="#ef5350" fill-opacity="0.68"/>
<rect x="474.17" y="250" width="2" height="28" fill="#ef5350"/>
<rect x="477" y="265" width="1" height="22" fill="#26a69a" fill-opacity="0.68"/>
<rect x="476.85" y="271" width="2" height="7" fill="#26a69a"/>
<rect x="480" y="270" width="1" height="39" fill="#ef5350" fill-opacity="0.68"/>
<rect x="479.52" y="271" width="2" height="20" fill="#ef5350"/>
<rect x="483" y="287" width="1" height="17" fill="#26a69a" fill-opacity="0.68"/>
<rect x="482.19" y="288" width="2" height="3" fill="#26a69a"/>
<rect x="486" y="286" width="1" height="21" fill="#26a69a" fill-opacity="0.68"/>
<rect x="484.87" y="286" width="2" height="3" fill="#26a69a"/>
<rect x="488" y="263" width="1" height="35" fill="#26a69a" fill-opacity="0.68"/>
<rect x="487.54" y="279" width="2" height="8" fill="#26a69a"/>
<rect x="491" y="251" width="1" height="35" fill="#26a69a" fill-opacity="0.68"/>
<rect x="490.21" y="252" width="2" height="28" fill="#26a69a"/>
<rect x="494" y="250" width="1" height="16" fill="#ef5350" fill-opacity="0.68"/>
<rect x="492.89" y="251" width="2" height="13" fill="#ef5350"/>
<rect x="496" y="256" width="1" height="17" fill="#ef5350" fill-opacity="0.68"/>
<rect x="495.56" y="263" width="2" height="2" fill="#ef5350"/>
<rect x="499" y="256" width="1" height="14" fill="#26a69a" fill-opacity="0.68"/>
<rect x="498.23" y="261" width="2" height="4" fill="#26a69a"/>
<rect x="502" y="257" width="1" height="21" fill="#ef5350" fill-opacity="0.68"/>
<rect x="500.91" y="261" width="2" height="14" fill="#ef5350"/>
<rect x="504" y="274" width="1" height="20" fill="#ef5350" fill-opacity="0.68"/>
<rect x="503.58" y="274" width="2" height="17" fill="#ef5350"/>
<rect x="507" y="265" width="1" height="28" fill="#26a69a" fill-opacity="0.68"/>
<rect x="506.25" y="270" width="2" height="21" fill="#26a69a"/>
<rect x="510" y="254" width="1" height="17" fill="#26a69a" fill-opacity="0.68"/>
<rect x="508.93" y="260" width="2" height="10" fill="#26a69a"/>
<rect x="512" y="242" width="1" height="19" fill="#26a69a" fill-opacity="0.68"/>
<rect x="511.6" y="248" width="2" height="12" fill="#26a69a"/>
<rect x="515" y="234" width="1" height="21" fill="#26a69a" fill-opacity="0.68"/>
<rect x="514.27" y="237" width="2" height="11" fill="#26a69a"/>
<rect x="518" y="217" width="1" height="21" fill="#26a69a" fill-opacity="0.68"/>
<rect x="516.95" y="226" width="2" height="11" fill="#26a69a"/>
<rect x="520" y="215" width="1" height="20" fill="#ef5350" fill-opacity="0.68"/>
<rect x="519.62" y="226" width="2" height="3" fill="#ef5350"/>
<rect x="523" y="213" width="1" height="20" fill="#ef5350" fill-opacity="0.68"/>
<rect x="522.29" y="228" width="2" height="4" fill="#ef5350"/>
<rect x="526" y="212" width="1" height="31" fill="#26a69a" fill-opacity="0.68"/>
<rect x="524.97" y="221" width="2" height="11" fill="#26a69a"/>
<rect x="528" y="204" width="1" height="29" fill="#ef5350" fill-opacity="0.68"/>
<rect x="527.64" y="221" width="2" height="8" fill="#ef5350"/>
<rect x="531" y="222" width="1" height="25" fill="#ef5350" fill-opacity="0.68"/>
<rect x="530.31" y="229" width="2" height="14" fill="#ef5350"/>
</g>
<rect x="322.4" y="308.2" width="14.5" height="28.7" rx="1.5" fill="#f0a3a3" fill-opacity="0.4" stroke="#7f838e" stroke-width="1.2"/>
<rect x="365.5" y="324.2" width="19.4" height="29.4" rx="1.5" fill="#f0a3a3" fill-opacity="0.4" stroke="#7f838e" stroke-width="1.2"/>
<rect x="403.1" y="346.7" width="19.1" height="26" rx="1.5" fill="#f0a3a3" fill-opacity="0.4" stroke="#7f838e" stroke-width="1.2"/>
<path d="M307 84.6 H890" stroke="#000" stroke-width="2.1" fill="none"/>
<path d="M0 382.8 H890" stroke="#000" stroke-width="2" fill="none"/>
<path d="M320 201.5 H667.7" stroke="#000" stroke-width="1.3" fill="none"/>
<path d="M435.3 294.3 L667.7 295.9" stroke="#000" stroke-width="1.3" fill="none"/>
<path d="M534.4 232 C541 218 547 204.5 555 204.5 C565 204.5 571 235 582 235 C592 235 599 222 604 201.5" stroke="#1f9e96" stroke-width="1.3" fill="none"/>
<path d="M604.5 202.5 L691.5 86" stroke="#e8853c" stroke-width="2" fill="none"/>
<path d="M678.5 87.2 L691.8 85.8 L693.6 100.4" stroke="#f0573a" stroke-width="1.3" fill="none" stroke-linejoin="miter"/>
<text x="0" y="0" font-size="10" fill="#3c3f48" stroke="#3c3f48" stroke-width="0.25" textLength="100" text-anchor="middle" dominant-baseline="central" transform="translate(655.2 149.8) rotate(-52.2)">突破小压力才有小目标</text>
<rect x="605.8" y="86" width="69.3" height="16.5" rx="1.3" fill="#fff" stroke="#262933" stroke-width="1.25"/>
<text class="bi" x="609" y="95.15" font-size="12" fill="#000" stroke="#000" stroke-width="0.12" textLength="62.9" lengthAdjust="spacingAndGlyphs" dominant-baseline="central">区间目标位置</text>
<rect x="605.5" y="203.8" width="240.8" height="16.4" rx="1.3" fill="#fff" stroke="#262933" stroke-width="1.25"/>
<text class="bi" x="608.7" y="212.9" font-size="12" fill="#ee3a34" stroke="#ee3a34" stroke-width="0.12" textLength="234.4" lengthAdjust="spacingAndGlyphs" dominant-baseline="central">连续密集的触及才是突破前的征兆（设置好保本）</text>
<rect x="520.4" y="278.5" width="132.9" height="16.1" rx="1.3" fill="#fff" stroke="#262933" stroke-width="1.25"/>
<text class="bi" x="522.8" y="287.45" font-size="12" fill="#f8b945" stroke="#f8b945" stroke-width="0.12" textLength="128.1" lengthAdjust="spacingAndGlyphs" dominant-baseline="central">小结构的抬升多头来讲有利</text>
<rect x="426.7" y="326.8" width="240.3" height="16.6" rx="1.3" fill="#fff" stroke="#262933" stroke-width="1.25"/>
<text class="bi" x="429.9" y="336" font-size="12" fill="#000" stroke="#000" stroke-width="0.12" textLength="233.9" lengthAdjust="spacingAndGlyphs" dominant-baseline="central">已经多次触及支撑区域了，再回调触及对多头不利</text>
<rect x="124.1" y="385.4" width="283.9" height="16.3" rx="1.3" fill="#fff" stroke="#262933" stroke-width="1.25"/>
<text class="bi" x="127.3" y="394.45" font-size="12" fill="#000" stroke="#000" stroke-width="0.12" textLength="277.5" lengthAdjust="spacingAndGlyphs" dominant-baseline="central">该支撑区域不能被突破，如果突破我们就要重新衡量背景了</text>
<rect x="890.5" y="0" width="42" height="550" fill="#fff"/>
<rect x="0" y="530.5" width="932" height="20" fill="#fff"/>
<path d="M889.6 0 V550" stroke="#6f7380" stroke-width="1.1" fill="none"/>
<path d="M0 530.3 H932" stroke="#6f7380" stroke-width="1.1" fill="none"/>
<g stroke="#6a6d78" stroke-width="1">
<path d="M890 16.34 h3.5"/>
<path d="M890 53.58 h3.5"/>
<path d="M890 90.82 h3.5"/>
<path d="M890 128.05 h3.5"/>
<path d="M890 165.29 h3.5"/>
<path d="M890 202.52 h3.5"/>
<path d="M890 239.76 h3.5"/>
<path d="M890 277 h3.5"/>
<path d="M890 314.23 h3.5"/>
<path d="M890 351.47 h3.5"/>
<path d="M890 388.7 h3.5"/>
<path d="M890 425.94 h3.5"/>
<path d="M890 463.18 h3.5"/>
<path d="M890 500.41 h3.5"/>
</g>
<g class="ax">
<text x="895.9" y="20.04" textLength="28.2" lengthAdjust="spacingAndGlyphs">62000.0</text>
<text x="895.9" y="57.28" textLength="28.2" lengthAdjust="spacingAndGlyphs">60000.0</text>
<text x="895.9" y="94.52" textLength="28.2" lengthAdjust="spacingAndGlyphs">58000.0</text>
<text x="895.9" y="131.75" textLength="28.2" lengthAdjust="spacingAndGlyphs">56000.0</text>
<text x="895.9" y="168.99" textLength="28.2" lengthAdjust="spacingAndGlyphs">54000.0</text>
<text x="895.9" y="206.22" textLength="28.2" lengthAdjust="spacingAndGlyphs">52000.0</text>
<text x="895.9" y="243.46" textLength="28.2" lengthAdjust="spacingAndGlyphs">50000.0</text>
<text x="895.9" y="280.7" textLength="28.2" lengthAdjust="spacingAndGlyphs">48000.0</text>
<text x="895.9" y="317.93" textLength="28.2" lengthAdjust="spacingAndGlyphs">46000.0</text>
<text x="895.9" y="355.17" textLength="28.2" lengthAdjust="spacingAndGlyphs">44000.0</text>
<text x="895.9" y="392.4" textLength="28.2" lengthAdjust="spacingAndGlyphs">42000.0</text>
<text x="895.9" y="429.64" textLength="28.2" lengthAdjust="spacingAndGlyphs">40000.0</text>
<text x="895.9" y="466.88" textLength="28.2" lengthAdjust="spacingAndGlyphs">38000.0</text>
<text x="895.9" y="504.11" textLength="28.2" lengthAdjust="spacingAndGlyphs">36000.0</text>
</g>
<g stroke="#6a6d78" stroke-width="1">
<path d="M18.05 530 v3.5"/>
<path d="M74.19 530 v3.5"/>
<path d="M130.33 530 v3.5"/>
<path d="M186.47 530 v3.5"/>
<path d="M242.61 530 v3.5"/>
<path d="M298.75 530 v3.5"/>
<path d="M354.89 530 v3.5"/>
<path d="M411.03 530 v3.5"/>
<path d="M467.17 530 v3.5"/>
<path d="M523.31 530 v3.5"/>
<path d="M579.45 530 v3.5"/>
<path d="M635.59 530 v3.5"/>
<path d="M691.73 530 v3.5"/>
<path d="M747.87 530 v3.5"/>
<path d="M812.5 530 v3.5"/>
</g>
<g class="ax" text-anchor="middle">
<text transform="translate(18.25 543.8) scale(0.925 1)">12:00</text>
<text transform="translate(74.39 543.8) scale(0.925 1)">8</text>
<text transform="translate(130.53 543.8) scale(0.925 1)">12:00</text>
<text transform="translate(186.67 543.8) scale(0.925 1)">15</text>
<text transform="translate(242.81 543.8) scale(0.925 1)">12:00</text>
<text transform="translate(298.95 543.8) scale(0.925 1)">22</text>
<text transform="translate(355.09 543.8) scale(0.925 1)">12:00</text>
<text transform="translate(411.23 543.8) scale(0.925 1)" font-weight="bold" fill="#131722">3月</text>
<text transform="translate(467.37 543.8) scale(0.925 1)">12:00</text>
<text transform="translate(523.51 543.8) scale(0.925 1)">8</text>
<text transform="translate(579.65 543.8) scale(0.925 1)">12:00</text>
<text transform="translate(635.79 543.8) scale(0.925 1)">15</text>
<text transform="translate(691.93 543.8) scale(0.925 1)">12:00</text>
<text transform="translate(748.07 543.8) scale(0.925 1)">22</text>
<text transform="translate(812.7 543.8) scale(0.925 1)">26</text>
</g>
<path d="M889 78.6 h37.6 a2 2 0 0 1 2 2 v7.8 a2 2 0 0 1 -2 2 h-37.6 z" fill="#000"/><path d="M890 84.6 h3" stroke="#fff" stroke-width="0.9"/>
<text x="895.9" y="87.9" font-size="8.4" fill="#fff" textLength="28.2" lengthAdjust="spacingAndGlyphs">58339.5</text>
<path d="M889 376.6 h37.6 a2 2 0 0 1 2 2 v7.8 a2 2 0 0 1 -2 2 h-37.6 z" fill="#000"/><path d="M890 382.7 h3" stroke="#fff" stroke-width="0.9"/>
<text x="895.9" y="385.9" font-size="8.4" fill="#fff" textLength="28.2" lengthAdjust="spacingAndGlyphs">42306.5</text>
<path d="M889 238.3 h36.8 a2 2 0 0 1 2 2 v17 a2 2 0 0 1 -2 2 h-36.8 z" fill="#ef5350"/><path d="M890 243.5 h3" stroke="#fff" stroke-width="0.9"/>
<text x="895.9" y="247.2" font-size="8.4" fill="#fff" textLength="28.2" lengthAdjust="spacingAndGlyphs">49777.5</text>
<text x="895.9" y="257" font-size="8.4" fill="#fff" fill-opacity="0.92" textLength="19.3" lengthAdjust="spacingAndGlyphs">18:15</text>
<rect x="901" y="4.6" width="19.5" height="10.8" rx="2.2" fill="#fff" stroke="#d6d9e0" stroke-width="1"/>
<text x="910.8" y="13.2" font-size="8.3" fill="#50535e" text-anchor="middle" textLength="13.3" lengthAdjust="spacingAndGlyphs">USD</text>
<text class="mono" x="5.6" y="16.2" font-size="9.2" fill="#686b76" textLength="294.5" lengthAdjust="spacingAndGlyphs">Bitcoin / US Dollar Perpetual Inverse Swap Contract, 4h, BITMEX</text>
<text class="mono" x="5.6" y="28.3" font-size="9.2" fill="#686b76" textLength="13.6" lengthAdjust="spacingAndGlyphs">Vol</text>
</svg></body></html>
